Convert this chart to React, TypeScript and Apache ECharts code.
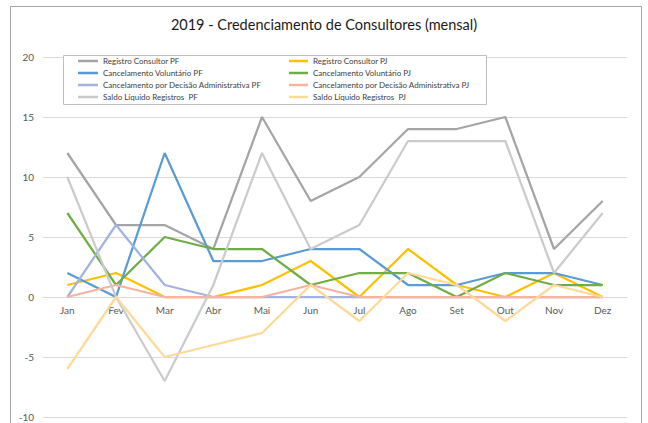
import React, { useEffect, useRef } from "react";
import * as echarts from "echarts";

const months = ["Jan", "Fev", "Mar", "Abr", "Mai", "Jun", "Jul", "Ago", "Set", "Out", "Nov", "Dez"];

const registroPF = [12, 6, 6, 4, 15, 8, 10, 14, 14, 15, 4, 8];
const registroPJ = [1, 2, 0, 0, 1, 3, 0, 4, 1, 0, 2, 0];
const cancVolPF = [2, 0, 12, 3, 3, 4, 4, 1, 1, 2, 2, 1];
const cancVolPJ = [7, 1, 5, 4, 4, 1, 2, 2, 0, 2, 1, 1];
const cancAdmPF = [0, 6, 1, 0, 0, 0, 0, 0, 0, 0, 0, 0];
const cancAdmPJ = [0, 1, 0, 0, 0, 1, 0, 0, 0, 0, 0, 0];
const saldoPF = [10, 0, -7, 1, 12, 4, 6, 13, 13, 13, 2, 7];
const saldoPJ = [-6, 0, -5, -4, -3, 1, -2, 2, 1, -2, 1, 0];

const seriesDefs = [
  { name: "Registro Consultor PF", data: registroPF, color: "#a5a5a5" },
  { name: "Registro Consultor PJ", data: registroPJ, color: "#ffc000" },
  { name: "Cancelamento Voluntário PF", data: cancVolPF, color: "#5b9bd5" },
  { name: "Cancelamento Voluntário PJ", data: cancVolPJ, color: "#70ad47" },
  { name: "Cancelamento por Decisão Administrativa PF", data: cancAdmPF, color: "#a2b3e2" },
  { name: "Cancelamento por Decisão Administrativa PJ", data: cancAdmPJ, color: "#f4b4a0" },
  { name: "Saldo Líquido Registros  PF", data: saldoPF, color: "#cbcbcb" },
  { name: "Saldo Líquido Registros  PJ", data: saldoPJ, color: "#ffd998" },
];

const FONT = "Lato";

export default function App() {
  const ref = useRef<HTMLDivElement>(null);
  useEffect(() => {
    if (!ref.current) return;
    const chart = echarts.init(ref.current, null, { renderer: "svg" });
    const legendCommon = {
      orient: "vertical" as const,
      top: 51,
      itemHeight: 2.5,
      itemGap: 2,
      icon: "rect",
      textStyle: { fontFamily: FONT, fontSize: 8, color: "#404040", lineHeight: 10 },
    };
    chart.setOption({
      animation: false,
      backgroundColor: "#ffffff",
      title: {
        text: "2019 - Credenciamento de Consultores (mensal)",
        left: "center",
        top: 12,
        textStyle: { fontFamily: FONT, fontSize: 14.5, fontWeight: "normal", color: "#1a1a1a" },
      },
      legend: [
        {
          ...legendCommon,
          left: 73,
          itemWidth: 20,
          data: seriesDefs.filter((_, i) => i % 2 === 0).map((s) => s.name),
        },
        {
          ...legendCommon,
          left: 284,
          itemWidth: 19,
          data: seriesDefs.filter((_, i) => i % 2 === 1).map((s) => s.name),
        },
      ],
      graphic: [
        {
          type: "rect",
          z: 3,
          shape: { x: 63.5, y: 55.5, width: 423, height: 49 },
          style: { fill: "#ffffff", stroke: "#bfbfbf", lineWidth: 1 },
        },
        {
          type: "rect",
          z: -1,
          silent: true,
          shape: { x: 10.5, y: 6.5, width: 631, height: 440 },
          style: { fill: "none", stroke: "#a6a6a6", lineWidth: 1 },
        },
      ],
      grid: { left: 43, right: 21, top: 57, bottom: 6, containLabel: false, outerBoundsMode: "none" },
      xAxis: {
        type: "category",
        data: months,
        boundaryGap: true,
        position: "bottom",
        offset: -120,
        z: 0,
        axisLine: { show: true, onZero: false, lineStyle: { color: "#d9d9d9" } },
        axisTick: { show: false },
        axisLabel: { fontFamily: FONT, fontSize: 10, color: "#595959", margin: 8 },
      },
      yAxis: {
        type: "value",
        min: -10,
        max: 20,
        interval: 5,
        axisLine: { show: false },
        axisTick: { show: false },
        axisLabel: { fontFamily: FONT, fontSize: 10, color: "#595959", margin: 9 },
        splitLine: { lineStyle: { color: "#d9d9d9", width: 1 } },
      },
      series: seriesDefs.map((s) => ({
        name: s.name,
        type: "line",
        data: s.data,
        showSymbol: false,
        symbol: "none",
        color: s.color,
        lineStyle: { color: s.color, width: 2.25 },
      })),
    });
    return () => chart.dispose();
  }, []);
  return (
    <div
      ref={ref}
      style={{ position: "fixed", left: 0, top: 0, width: 648, height: 423, background: "#fff" }}
    />
  );
}
